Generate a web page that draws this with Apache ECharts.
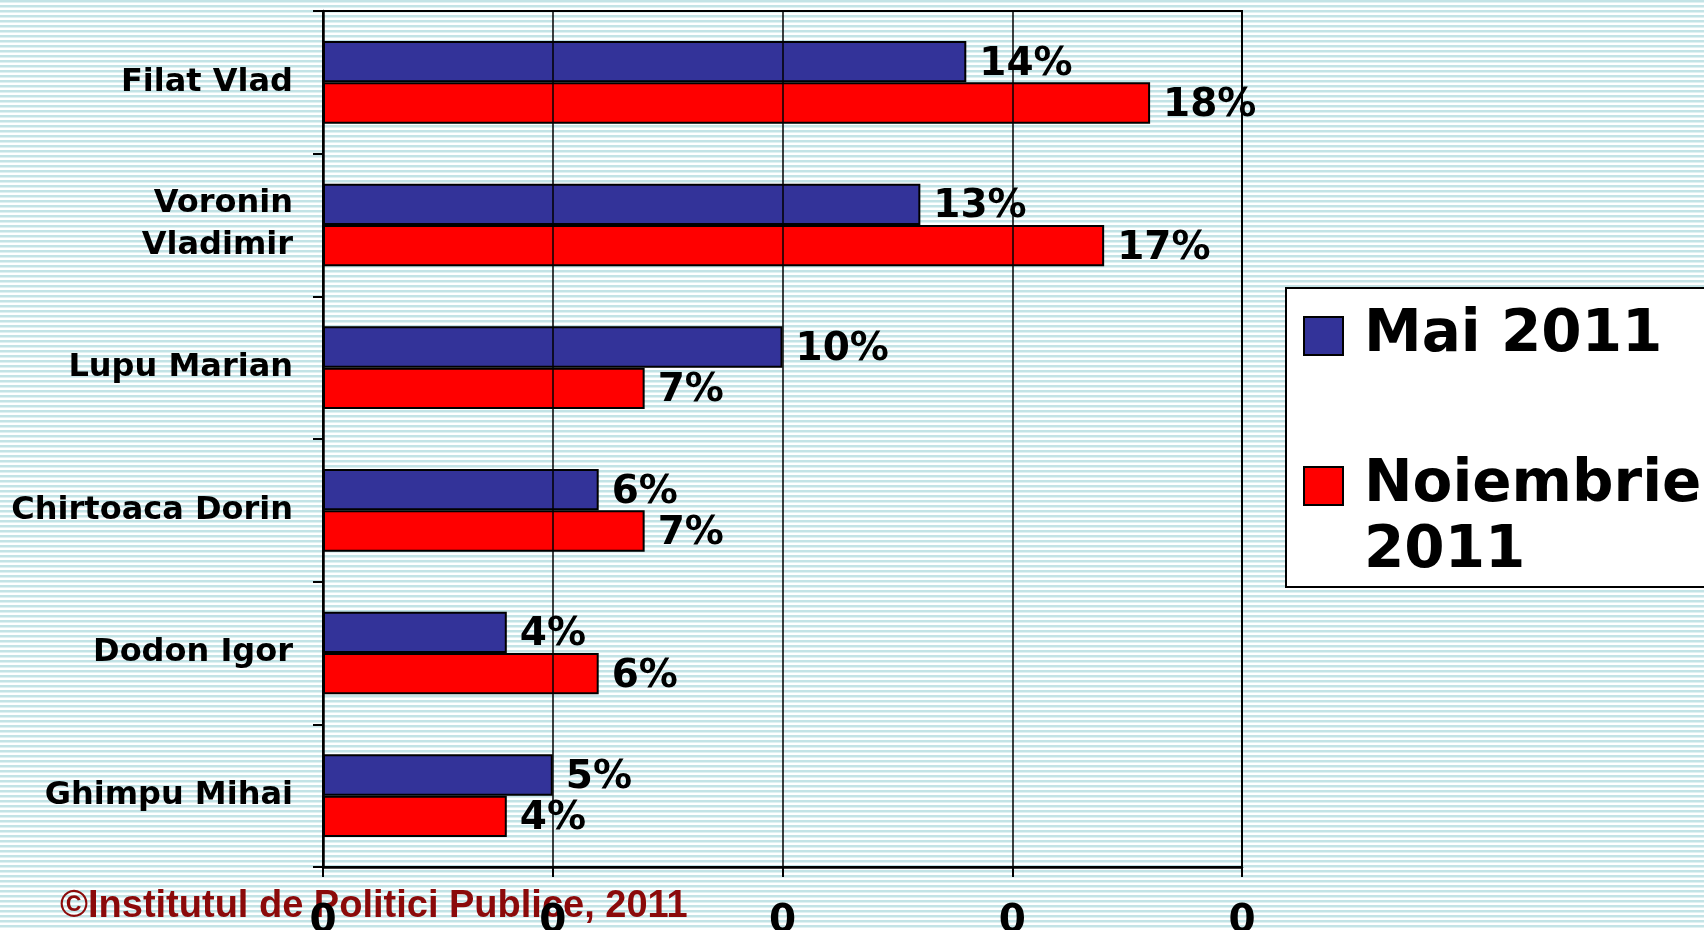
<!DOCTYPE html>
<html>
<head>
<meta charset="utf-8">
<script src="https://cdn.jsdelivr.net/npm/echarts@6/dist/echarts.min.js"></script>
<style>
  html, body { margin: 0; padding: 0; }
  body {
    width: 1704px; height: 930px; overflow: hidden;
    background: repeating-linear-gradient(to bottom, #c3e3e6 0px, #c3e3e6 2px, #e0f1f2 2px, #e0f1f2 3px, #ffffff 3px, #ffffff 5px);
  }
  #main { width: 1704px; height: 930px; }
</style>
</head>
<body>
<div id="main"></div>
<script>
var categories = ['Filat Vlad', 'Voronin\nVladimir', 'Lupu Marian', 'Chirtoaca Dorin', 'Dodon Igor', 'Ghimpu Mihai'];
var seriesNames = ['Mai 2011', 'Noiembrie 2011'];
var legendLabels = ['Mai 2011', ' \nNoiembrie\n2011'];
var maiValues = [14, 13, 10, 6, 4, 5];
var noiValues = [18, 17, 7, 7, 6, 4];
var xTickLabels = ['0', '0', '0', '0', '0'];
var copyrightText = '©Institutul de Politici Publice, 2011';

var chart = echarts.init(document.getElementById('main'));

var labelStyle = {
    show: true,
    position: 'right',
    distance: 13,
    offset: [0, 3],
    formatter: '{c}%',
    color: '#000',
    fontFamily: 'DejaVu Sans',
    fontWeight: 'bold',
    fontSize: 39
};

var option = {
    backgroundColor: 'transparent',
    animation: false,
    title: {
        text: copyrightText,
        left: 60,
        top: 888,
        padding: 0,
        z: 1,
        textStyle: {
            color: '#8B0A0A',
            fontFamily: 'Liberation Sans',
            fontWeight: 'bold',
            fontSize: 38
        }
    },
    legend: {
        orient: 'vertical',
        left: 1286,
        top: 288,
        padding: [15, 80, 2, 17],
        itemWidth: 39,
        itemHeight: 38,
        itemGap: 18,
        icon: 'rect',
        backgroundColor: '#fff',
        borderColor: '#000',
        borderWidth: 2,
        data: seriesNames,
        formatter: function (name) {
            return legendLabels[seriesNames.indexOf(name)];
        },
        textStyle: {
            color: '#000',
            fontFamily: 'DejaVu Sans',
            fontWeight: 'bold',
            fontSize: 58,
            lineHeight: 66,
            padding: [0, 0, 0, 16]
        }
    },
    grid: {
        left: 323,
        right: 462,
        top: 11,
        bottom: 63,
        outerBoundsMode: 'none',
        show: true,
        borderColor: '#000',
        borderWidth: 2,
        backgroundColor: 'transparent'
    },
    xAxis: {
        type: 'value',
        min: 0,
        max: 20,
        interval: 5,
        z: 10,
        axisLine: { show: true, lineStyle: { color: '#000', width: 2.5 } },
        axisTick: { show: true, length: 10, lineStyle: { color: '#000', width: 2 } },
        splitLine: { show: true, lineStyle: { color: '#000', width: 1.5 } },
        axisLabel: {
            margin: 35,
            color: '#000',
            fontFamily: 'DejaVu Sans',
            fontWeight: 'bold',
            fontSize: 39,
            formatter: function (v) { return xTickLabels[Math.round(v / 5)]; }
        }
    },
    yAxis: {
        type: 'category',
        data: categories,
        inverse: true,
        axisLine: { show: true, lineStyle: { color: '#000', width: 2.5 } },
        axisTick: { show: true, length: 10, lineStyle: { color: '#000', width: 2 } },
        axisLabel: {
            margin: 30,
            color: '#000',
            fontFamily: 'DejaVu Sans',
            fontWeight: 'bold',
            fontSize: 32,
            lineHeight: 42,
            padding: [16, 0, 0, 0],
            align: 'right'
        }
    },
    series: [
        {
            name: seriesNames[0],
            type: 'bar',
            data: maiValues,
            barGap: '0%',
            barCategoryGap: '42%',
            itemStyle: { color: '#333399', borderColor: '#000', borderWidth: 2 },
            label: labelStyle
        },
        {
            name: seriesNames[1],
            type: 'bar',
            data: noiValues,
            itemStyle: { color: '#FF0000', borderColor: '#000', borderWidth: 2 },
            label: labelStyle
        }
    ]
};
chart.setOption(option);
</script>
</body>
</html>
